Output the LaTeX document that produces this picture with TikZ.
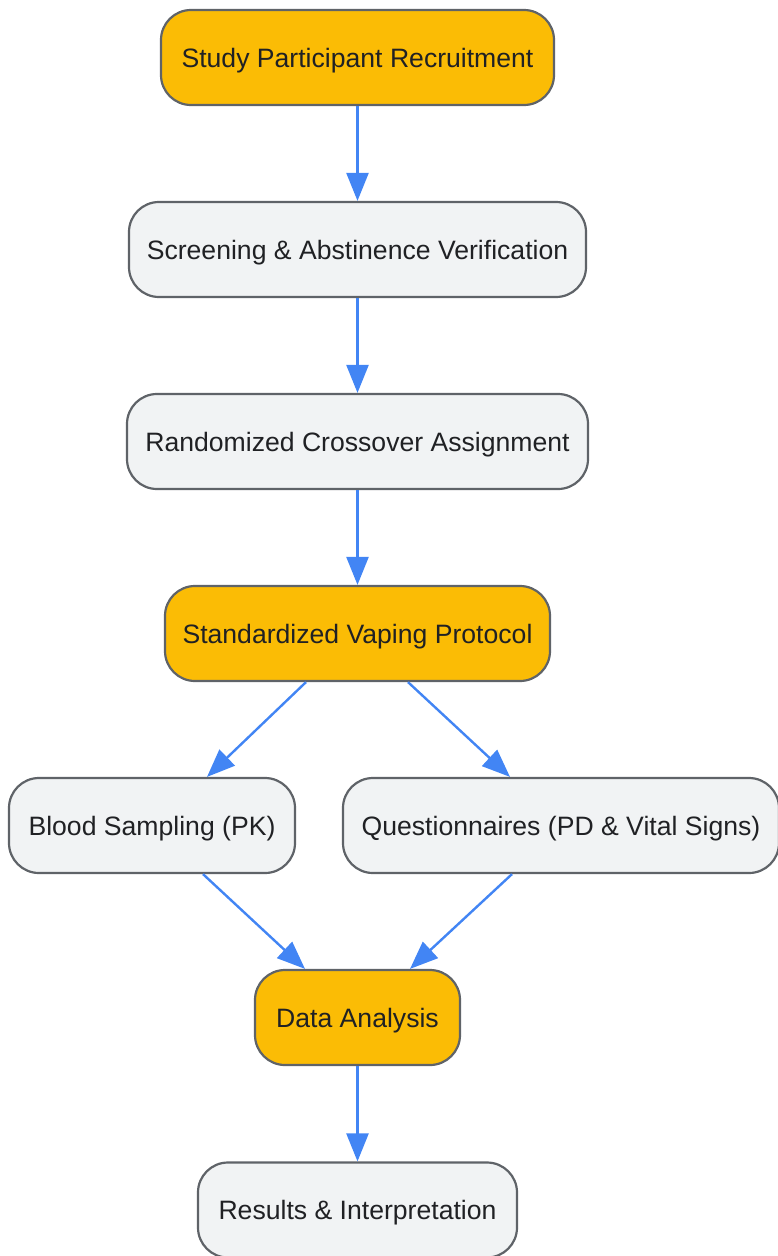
\documentclass[tikz,border=0pt]{standalone}
\usepackage{fontspec}
\setmainfont{Liberation Sans}
\usetikzlibrary{arrows.meta}
\definecolor{gold}{HTML}{FBBC05}
\definecolor{lgray}{HTML}{F1F3F4}
\definecolor{bord}{HTML}{5F6368}
\definecolor{txt}{HTML}{202124}
\definecolor{arr}{HTML}{4285F4}
\tikzset{
  box/.style={draw=bord, line width=2.2pt, rounded corners=30pt, fill=lgray,
    text=txt, font=\fontsize{26.6}{30}\selectfont, minimum height=95pt, inner sep=0pt, anchor=center,
    text depth=0pt, text height=19pt},
  hl/.style={box, fill=gold},
  conn/.style={draw=arr, line width=2.4pt, -{Triangle[length=28pt,width=22pt]}}
}
\begin{document}
\begin{tikzpicture}[x=1pt,y=-1pt]
\useasboundingbox (0,0) rectangle (777,1256);
\node[hl, minimum width=393pt] (n1) at (357.5,57.5) {Study Participant Recruitment};
\node[box, minimum width=457pt] (n2) at (357.5,249.5) {Screening \& Abstinence Verification};
\node[box, minimum width=461pt] (n3) at (357.5,441.5) {Randomized Crossover Assignment};
\node[hl, minimum width=385pt] (n4) at (357.5,633.5) {Standardized Vaping Protocol};
\node[box, minimum width=286pt] (n5) at (152,825.5) {Blood Sampling (PK)};
\node[box, minimum width=436pt] (n6) at (561,825.5) {Questionnaires (PD \& Vital Signs)};
\node[hl, minimum width=205pt] (n7) at (357.5,1017.5) {Data Analysis};
\node[box, minimum width=319pt] (n8) at (357.5,1210) {Results \& Interpretation};
\draw[conn] (n1) -- (n2);
\draw[conn] (n2) -- (n3);
\draw[conn] (n3) -- (n4);
\draw[conn] ([xshift=-51.5pt]n4.south) -- ([xshift=55pt]n5.north);
\draw[conn] ([xshift=50.5pt]n4.south) -- ([xshift=-51pt]n6.north);
\draw[conn] ([xshift=51pt]n5.south) -- ([xshift=-52.5pt]n7.north);
\draw[conn] ([xshift=-49pt]n6.south) -- ([xshift=52.5pt]n7.north);
\draw[conn] (n7) -- (n8);
\end{tikzpicture}
\end{document}
